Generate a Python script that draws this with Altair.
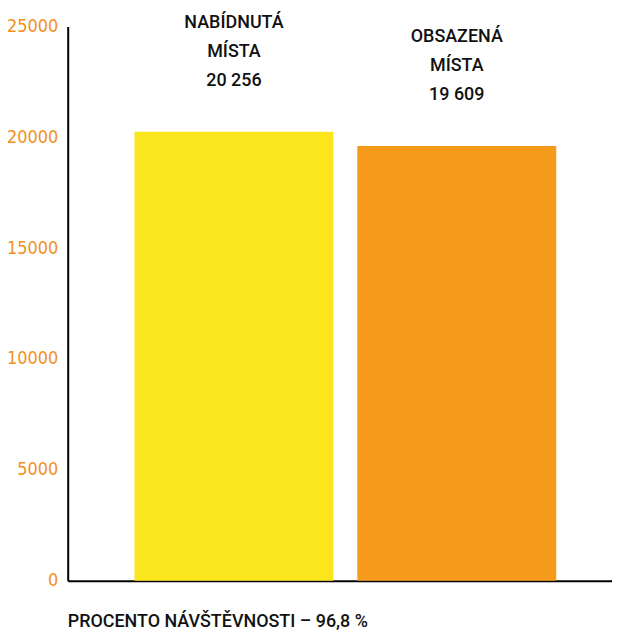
import altair as alt
import pandas as pd

categories = ["NABÍDNUTÁ\nMÍSTA", "OBSAZENÁ\nMÍSTA"]
values = [20256, 19609]
value_labels = ["20 256", "19 609"]
colors = ["#fbe51c", "#f69a1c"]
footer = "PROCENTO NÁVŠTĚVNOSTI – 96,8 %"

df = pd.DataFrame({
    "cat": categories,
    "value": values,
    "label": [c.split("\n") + [v] for c, v in zip(categories, value_labels)],
})

tick_font = "DejaVu Sans Condensed"
text_font = "Roboto"

x = alt.X("cat:N", sort=categories,
          scale=alt.Scale(paddingInner=0.107, paddingOuter=0.275, align=0.545),
          axis=alt.Axis(title=None, labels=False, ticks=False, domainColor="black",
                        domainWidth=2))
y = alt.Y("value:Q",
          scale=alt.Scale(domain=[0, 25000], nice=False),
          axis=alt.Axis(title=None, values=[0, 5000, 10000, 15000, 20000, 25000],
                        grid=False, ticks=False, domainColor="black", domainWidth=2,
                        labelColor="#f2901e", labelFont=tick_font, labelFontSize=18,
                        labelPadding=10, format="d"))

bars = alt.Chart(df).mark_bar().encode(
    x=x, y=y,
    color=alt.Color("cat:N", scale=alt.Scale(domain=categories, range=colors), legend=None),
)

texts = alt.Chart(df).mark_text(
    baseline="bottom", dy=-100, fontSize=18, font=text_font,
    fontWeight=500, lineHeight=29, color="#111111"
).encode(x=alt.X("cat:N", sort=categories), y="value:Q", text="label")

chart = alt.layer(bars, texts).properties(
    width=547, height=557,
    autosize=alt.AutoSizeParams(type="none"),
    padding={"left": 60, "top": 17, "right": 0, "bottom": 50},
    title=alt.TitleParams(footer, orient="bottom", anchor="start", frame="group",
                          offset=24, font=text_font, fontSize=18, fontWeight=500,
                          color="#111111"),
).configure_view(stroke=None)

chart.save("out.html", embed_options={"renderer": "svg", "actions": False})
